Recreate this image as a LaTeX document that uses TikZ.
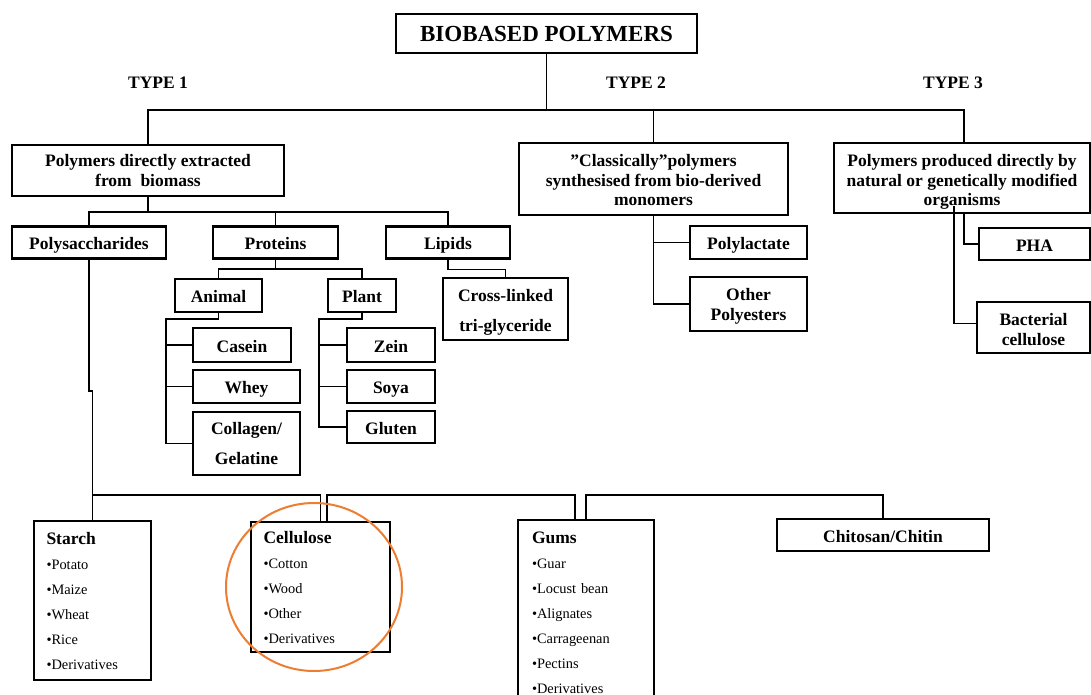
\documentclass[tikz,border=0pt]{standalone}
\usepackage{fontspec}
\setmainfont{Liberation Serif}
\newcommand\bxfont{\bfseries\fontsize{17.5}{20}\selectfont}
\newcommand\ttlfont{\bfseries\fontsize{23}{26}\selectfont}
\newcommand\lsfont{\fontsize{14.4}{25}\selectfont}
\newcommand\lshead[1]{{\bfseries\fontsize{17.5}{25}\selectfont #1}}
\newcommand\tallstrut[1]{\rule{0pt}{#1}}
\definecolor{circleorange}{RGB}{237,125,49}
\tikzset{
  box/.style={draw, line width=2.5pt, fill=white, font=\bxfont, align=center, inner sep=0pt},
  onebox/.style={box, text height=14pt, text depth=0pt},
  lstbox/.style={draw, line width=2.5pt, fill=white, font=\lsfont, align=left, inner ysep=0pt},
  lbl/.style={font=\bxfont, inner sep=0pt},
  conn/.style={line width=1.5pt},
}
\begin{document}
\begin{tikzpicture}[x=1pt,y=-1pt]
\useasboundingbox (0,0) rectangle (1091,695);
% junction levels
\coordinate (jt) at (0,110);
\coordinate (j1) at (0,212);
\coordinate (jp) at (0,269);
\coordinate (av) at (166,319);
\coordinate (pv) at (319,319);
\coordinate (jb) at (0,495);

% top
\node[box, font=\ttlfont, text height=16.4pt, text depth=0pt, minimum width=301, minimum height=39] (title) at (546.5,33.5) {BIOBASED POLYMERS};
\node[lbl] (t1) at (158,83) {TYPE 1};
\node[lbl] (t2) at (636,83) {TYPE 2};
\node[lbl] (t3) at (953,83) {TYPE 3};

\node[box, minimum width=272, minimum height=51] (box1) at (148,170.5) {Polymers directly extracted\\from~ biomass};
\node[box, minimum width=269, minimum height=72, font=\bfseries\fontsize{17.5}{19.5}\selectfont] (box2) at (653.5,179) {\tallstrut{15pt}”Classically”polymers\\synthesised from bio-derived\\monomers};
\node[box, minimum width=256, minimum height=70, font=\bfseries\fontsize{17.5}{19.5}\selectfont] (box3) at (962,178) {\tallstrut{20pt}Polymers produced directly by\\natural or genetically modified\\organisms};

% type 1 children
\node[onebox, minimum width=154, minimum height=32] (poly) at (89,242.5) {Polysaccharides};
\node[onebox, minimum width=125, minimum height=32] (proteins) at (275.5,242.5) {Proteins};
\node[onebox, minimum width=124, minimum height=32] (lipids) at (448,242.5) {Lipids};

\node[onebox, minimum width=87, minimum height=33] (animal) at (218.5,295.5) {Animal};
\node[onebox, minimum width=68, minimum height=33] (plant) at (362,295.5) {Plant};

\node[onebox, minimum width=98, minimum height=34] (casein) at (242,345) {Casein};
\node[onebox, minimum width=107, minimum height=33] (whey) at (246.5,386.5) {Whey};
\node[box, minimum width=107, minimum height=63, font=\bfseries\fontsize{17.5}{30}\selectfont] (collagen) at (246.5,443.5) {Collagen/\\Gelatine};

\node[onebox, minimum width=88, minimum height=34] (zein) at (391,345) {Zein};
\node[onebox, minimum width=88, minimum height=33] (soya) at (391,386.5) {Soya};
\node[onebox, minimum width=88, minimum height=32] (gluten) at (391,427) {Gluten};

\node[box, minimum width=125, minimum height=62, font=\bfseries\fontsize{17.5}{30}\selectfont] (crosslinked) at (505.5,309) {\tallstrut{18.2pt}Cross-linked\\tri-glyceride};

% type 2 children
\node[onebox, minimum width=117, minimum height=33] (polylactate) at (748.5,242.5) {Polylactate};
\node[box, minimum width=117, minimum height=54] (otherpoly) at (748.5,304) {\tallstrut{17.4pt}Other\\Polyesters};

% type 3 children
\node[onebox, minimum width=111, minimum height=32] (pha) at (1034.5,244) {PHA};
\node[box, minimum width=113, minimum height=51] (bacterial) at (1033.5,327.5) {\tallstrut{17pt}Bacterial\\cellulose};

% polysaccharide children
\node[lstbox, minimum width=117, minimum height=159, text width=92, inner xsep=12.5] (starch) at (92.5,600.5)
  {\lshead{Starch}\\•Potato\\•Maize\\•Wheat\\•Rice\\•Derivatives};
\node[lstbox, minimum width=139, minimum height=130, text width=114, inner xsep=12.5] (cellulose) at (320.5,587)
  {\lshead{Cellulose}\\•Cotton\\•Wood\\•Other\\•Derivatives};
\node[lstbox, minimum width=136, minimum height=185, text width=108, inner xsep=14] (gums) at (586,612.5)
  {\lshead{Gums}\\•Guar\\•Locust bean\\•Alignates\\•Carrageenan\\•Pectins\\•Derivatives};
\node[onebox, minimum width=212, minimum height=32] (chitosan) at (883,535) {Chitosan/Chitin};

% connectors: top level
\draw[conn] (title.south) -- (title.south |- jt);
\draw[conn] (box1.north) -- (box1.north |- jt) -| ([xshift=2pt]box3.north);
\draw[conn] (box2.north) -- (box2.north |- jt);

% type 1
\draw[conn] (box1.south) -- (box1.south |- j1);
\draw[conn] (poly.north) -- (poly.north |- j1) -| (lipids.north);
\draw[conn] (proteins.north) -- (proteins.north |- j1);

\draw[conn] (proteins.south) -- (proteins.south |- jp);
\draw[conn] (animal.north) -- (animal.north |- jp) -| (plant.north);

\draw[conn] (animal.south) |- (av) |- (collagen.west);
\draw[conn] (casein.west) -- (casein.west -| av);
\draw[conn] (whey.west) -- (whey.west -| av);

\draw[conn] (plant.south) |- (pv) |- (gluten.west);
\draw[conn] (zein.west) -- (zein.west -| pv);
\draw[conn] (soya.west) -- (soya.west -| pv);

\draw[conn] (lipids.south) -- ++(0,9.5) -| (crosslinked.north);

% polysaccharides
\draw[conn] (poly.south) -- ++(0,131) -| (starch.north);
\draw[conn] (starch.north |- jb) -| (cellulose.north);
\draw[conn] ([xshift=6.5pt]cellulose.north) -- ([xshift=6.5pt]cellulose.north |- jb) -| ([xshift=-11pt]gums.north);
\draw[conn] (gums.north) -- (gums.north |- jb) -| (chitosan.north);

% type 2
\draw[conn] (box2.south) |- (otherpoly.west);
\draw[conn] (polylactate.west) -- (polylactate.west -| box2.south);

% type 3
\draw[conn] ([xshift=2pt]box3.south) |- (pha.west);
\draw[conn] ([xshift=-8pt,yshift=8pt]box3.south) |- ([yshift=4pt]bacterial.west);

% highlight
\draw[circleorange, line width=2pt] (cellulose.center) ++(-6.5,0) ellipse [x radius=88, y radius=84];
\end{tikzpicture}
\end{document}
